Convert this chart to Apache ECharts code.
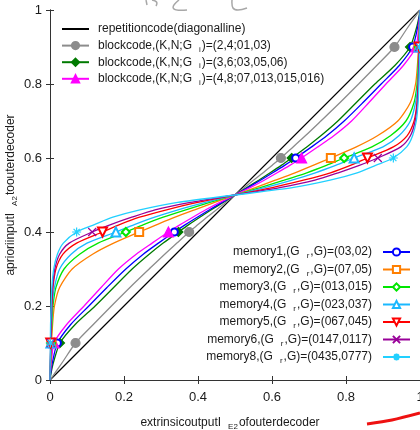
<!DOCTYPE html>
<html>
<head>
<meta charset="utf-8">
<script src="https://cdn.jsdelivr.net/npm/echarts@6/dist/echarts.min.js"></script>
<style>
  html, body { margin: 0; padding: 0; background: #fff; }
  #chart { width: 420px; height: 430px; }
</style>
</head>
<body>
<div id="chart"></div>
<script>
// a-priori input levels (vertical axis) at which each transfer curve is sampled
const ys = [0, 0.02, 0.05, 0.1, 0.15, 0.2, 0.25, 0.3, 0.34, 0.37, 0.4, 0.42, 0.44, 0.46, 0.48, 0.5,
            0.52, 0.54, 0.56, 0.58, 0.6, 0.63, 0.66, 0.7, 0.75, 0.8, 0.85, 0.9, 0.95, 0.98, 1];
// sample indices that carry a marker
const markerIdx = [3, 10, 20, 27];

// extrinsic output values (horizontal axis), one per entry of ys
const diagX = [0, 1];
const diagY = [0, 1];
const block24 = [0, .014, .035, .069, .117, .166, .216, .268, .31, .343, .376, .40, .424, .45, .475, .5,
                 .525, .55, .576, .60, .624, .657, .69, .732, .784, .834, .883, .931, .965, .986, 1];
const block36 = [0, .003, .01, .027, .068, .122, .172, .222, .268, .306, .347, .375, .405, .436, .468, .5,
                 .532, .564, .595, .625, .653, .694, .732, .778, .828, .878, .932, .973, .99, .997, 1];
const block48 = [0, .001, .004, .011, .045, .092, .138, .185, .233, .276, .32, .352, .386, .421, .459, .5,
                 .541, .579, .614, .648, .68, .724, .767, .815, .862, .908, .955, .989, .996, .999, 1];
const mem1 = [0, .002, .007, .02, .056, .105, .154, .205, .252, .293, .336, .366, .398, .431, .465, .5,
              .535, .569, .602, .634, .664, .707, .748, .795, .846, .895, .944, .98, .993, .998, 1];
const mem2 = [0, .001, .002, .004, .007, .012, .026, .06, .115, .172, .241, .289, .338, .391, .445, .5,
              .555, .609, .662, .711, .759, .828, .885, .94, .974, .988, .993, .996, .998, .999, 1];
const mem3 = [0, .0006, .0015, .003, .005, .008, .016, .038, .08, .13, .205, .253, .306, .367, .432, .5,
              .568, .633, .694, .747, .795, .87, .92, .962, .984, .992, .995, .997, .9985, .9994, 1];
const mem4 = [0, .0005, .001, .0025, .004, .006, .012, .026, .057, .1, .178, .228, .283, .346, .42, .5,
              .58, .654, .717, .772, .822, .9, .943, .974, .988, .994, .996, .9975, .999, .9995, 1];
const mem5 = [0, .0004, .001, .002, .003, .005, .008, .016, .035, .072, .142, .188, .242, .315, .399, .5,
              .601, .685, .758, .812, .858, .928, .965, .984, .992, .995, .997, .998, .999, .9996, 1];
const mem6 = [0, .0003, .001, .002, .003, .004, .007, .013, .026, .052, .114, .164, .221, .284, .379, .5,
              .621, .716, .779, .836, .886, .948, .974, .987, .993, .996, .997, .998, .999, .9997, 1];
const mem8 = [0, .0002, .0005, .001, .0015, .003, .005, .01, .02, .036, .072, .12, .17, .243, .345, .5,
              .655, .757, .83, .88, .928, .964, .98, .99, .995, .997, .9985, .999, .9995, .9998, 1];

const names = {
  rep: 'repetitioncode(diagonalline)',
  b24: 'blockcode,(K,N;G_i)=(2,4;01,03)',
  b36: 'blockcode,(K,N;G_i)=(3,6;03,05,06)',
  b48: 'blockcode,(K,N;G_i)=(4,8;07,013,015,016)',
  m1: 'memory1,(G_r,G)=(03,02)',
  m2: 'memory2,(G_r,G)=(07,05)',
  m3: 'memory3,(G_r,G)=(013,015)',
  m4: 'memory4,(G_r,G)=(023,037)',
  m5: 'memory5,(G_r,G)=(067,045)',
  m6: 'memory6,(G_r,G)=(0147,0117)',
  m8: 'memory8,(G_r,G)=(0435,0777)'
};

const FONT = 'Liberation Sans, Arial, sans-serif';
const crossPath = 'path://M0,0L10,10M0,10L10,0';
const starPath = 'path://M5,0L5,10M0,5L10,5M1.6,1.6L8.4,8.4M1.6,8.4L8.4,1.6';

function curve(name, xs, color, symbol, size, rotate) {
  const data = xs.map((x, i) =>
    markerIdx.indexOf(i) >= 0 ? [x, ys[i]] : { value: [x, ys[i]], symbol: 'none' });
  return {
    name, type: 'line', data,
    symbol, symbolSize: size, symbolRotate: rotate || 0,
    showAllSymbol: true, smooth: 0.25,
    lineStyle: { color, width: 1.3 },
    itemStyle: { color, borderColor: color, borderWidth: 1.2 },
    emphasis: { disabled: true },
    animation: false
  };
}

const series = [
  {
    name: names.rep, type: 'line', symbol: 'none',
    data: diagX.map((x, i) => [x, diagY[i]]),
    lineStyle: { color: '#000', width: 1.2 }, itemStyle: { color: '#000' },
    emphasis: { disabled: true },
    animation: false
  },
  curve(names.b24, block24, '#8c8c8c', 'circle', 9),
  curve(names.b36, block36, '#007a00', 'diamond', 9),
  curve(names.m1, mem1, '#0000ff', 'emptyCircle', 7),
  curve(names.b48, block48, '#ff00ff', 'triangle', 10),
  curve(names.m2, mem2, '#ff7f00', 'emptyRect', 8),
  curve(names.m3, mem3, '#00e600', 'emptyDiamond', 8),
  curve(names.m4, mem4, '#1ab8ff', 'emptyTriangle', 9),
  curve(names.m5, mem5, '#ff0000', 'emptyTriangle', 9, 180),
  curve(names.m6, mem6, '#990099', crossPath, 8),
  curve(names.m8, mem8, '#22d0ff', starPath, 9)
];

const subFmt = n => n.replace(/_(\w)/, '{s|$1}');
const subStyle = { fontSize: 8, lineHeight: 8, padding: [8, 1, 0, 7], fontFamily: FONT, color: '#1a1a1a' };
const legendText = pad => ({
  fontSize: 12, color: '#1a1a1a', fontFamily: FONT,
  lineHeight: 16, padding: pad,
  rich: { s: subStyle }
});
const nameStyle = pad => ({
  fontSize: 12, color: '#1a1a1a', lineHeight: 16, fontFamily: FONT, padding: pad,
  rich: { s: subStyle }
});

const axisLineStyle = { lineStyle: { color: '#333', width: 1 } };
const tickStyle = { show: true, inside: true, length: 4, lineStyle: { color: '#333' } };

const option = {
  backgroundColor: '#fff',
  animation: false,
  grid: { left: 50, right: 0, top: 10, bottom: 50, containLabel: false, outerBoundsMode: 'none' },
  legend: [
    {
      data: [
        { name: names.rep, itemStyle: { opacity: 0 } },
        names.b24, names.b36, names.b48
      ],
      orient: 'vertical', left: 61, top: 21, padding: 0,
      itemWidth: 27, itemHeight: 9, itemGap: 0.6,
      formatter: subFmt, textStyle: legendText([0, 0, 0, 4]),
      selectedMode: false
    },
    {
      data: [names.m1, names.m2, names.m3, names.m4, names.m5, names.m6, names.m8],
      orient: 'vertical', right: 9, top: 244, padding: 0, align: 'right',
      itemWidth: 27, itemHeight: 9, itemGap: 1.5,
      formatter: subFmt, textStyle: legendText([0, 6, 0, 0]),
      selectedMode: false
    }
  ],
  xAxis: [
    {
      type: 'value', min: 0, max: 1, interval: 0.2, position: 'bottom',
      name: 'extrinsicoutputI{s|E2}ofouterdecoder', nameLocation: 'middle', nameGap: 35,
      nameMoveOverlap: false,
      nameTextStyle: nameStyle([0, 10, 0, 0]),
      axisLine: axisLineStyle, axisTick: tickStyle,
      axisLabel: { fontSize: 13, color: '#1a1a1a', margin: 11, fontFamily: FONT, alignMaxLabel: 'center' },
      splitLine: { show: false }
    },
    {
      type: 'value', min: 0, max: 1, interval: 0.2, position: 'top',
      axisLine: axisLineStyle, axisTick: tickStyle, axisLabel: { show: false }, splitLine: { show: false }
    }
  ],
  yAxis: [
    {
      type: 'value', min: 0, max: 1, interval: 0.2, position: 'left',
      name: 'aprioriinputI{s|A2}toouterdecoder', nameLocation: 'middle', nameGap: 31,
      nameMoveOverlap: false,
      nameTextStyle: nameStyle(0),
      axisLine: axisLineStyle, axisTick: tickStyle,
      axisLabel: { fontSize: 13, color: '#1a1a1a', margin: 8, fontFamily: FONT },
      splitLine: { show: false }
    },
    {
      type: 'value', min: 0, max: 1, interval: 0.2, position: 'right',
      axisLine: axisLineStyle, axisTick: tickStyle, axisLabel: { show: false }, splitLine: { show: false }
    }
  ],
  graphic: [
    // pen marks over the figure
    { type: 'polyline', shape: { points: [[146, 0], [147, 5]] }, style: { stroke: '#a8a8a8', lineWidth: 1.5, fill: null } },
    { type: 'bezierCurve', shape: { x1: 152, y1: 0, x2: 156, y2: 6, cpx1: 159, cpy1: 1 }, style: { stroke: '#a8a8a8', lineWidth: 1.5, fill: null } },
    { type: 'bezierCurve', shape: { x1: 179, y1: 0, x2: 187, y2: 10, cpx1: 164, cpy1: 12 }, style: { stroke: '#a8a8a8', lineWidth: 1.5, fill: null } },
    { type: 'polyline', shape: { points: [[232, 0], [233, 8], [238, 10], [247, 8]], smooth: 0.4 }, style: { stroke: '#a8a8a8', lineWidth: 1.5, fill: null } },
    { type: 'polyline', shape: { points: [[367, 424], [392, 420], [420, 413]], smooth: 0.3 }, style: { stroke: '#ee1111', lineWidth: 3, fill: null } }
  ],
  series
};

const chart = echarts.init(document.getElementById('chart'), null, { renderer: 'canvas' });
chart.setOption(option);
</script>
</body>
</html>
